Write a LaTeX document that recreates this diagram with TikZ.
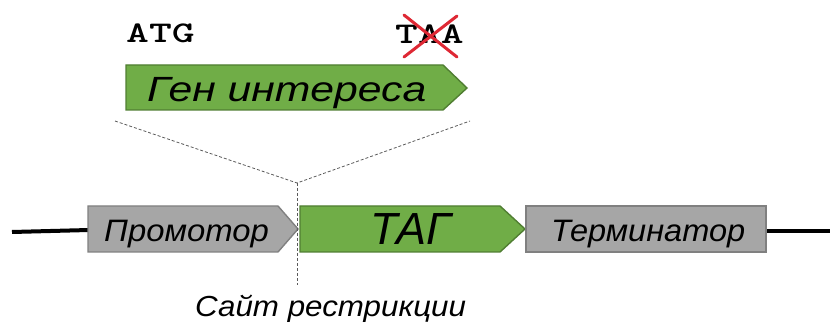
\documentclass[tikz,border=0pt]{standalone}
\usepackage{fontspec}
\setmainfont{Liberation Sans}
\tikzset{
  grayfill/.style={fill=boxgray, draw=boxedge, line width=1.4pt},
  greenfill/.style={fill=genegreen, draw=geneedge, line width=1.4pt},
  label/.style={inner sep=0pt, anchor=base west, font=\itshape},
  guide/.style={dashed, dash pattern=on 3pt off 2pt, draw=guidegray, line width=0.8pt},
  dnaline/.style={line width=4pt, black},
  codon/.style={inner sep=0pt, anchor=base west, font=\fontsize{30}{34}\selectfont\ttfamily\bfseries},
  cross/.style={draw=crossred, line width=3pt, line cap=round}
}
\definecolor{boxgray}{RGB}{166,166,166}
\definecolor{boxedge}{RGB}{128,128,128}
\definecolor{genegreen}{RGB}{112,173,71}
\definecolor{geneedge}{RGB}{80,126,50}
\definecolor{guidegray}{RGB}{90,90,90}
\definecolor{crossred}{RGB}{222,40,52}
\begin{document}
\begin{tikzpicture}[x=1pt,y=-1pt]
\useasboundingbox (0,0) rectangle (830,323);

% DNA backbone ends
\coordinate (l0) at (12,232);
\coordinate (l1) at (89,230);
\coordinate (r0) at (765,231);
\coordinate (r1) at (830,231);
\draw[dnaline] (l0) -- (l1);
\draw[dnaline] (r0) -- (r1);

% promoter
\draw[grayfill] (88,206) -- (278,206) -- (298,229) -- (278,252) -- (88,252) -- cycle;
\node[label, font=\itshape\fontsize{31}{36}\selectfont] (prom) at (104,242) {\scalebox{1.06}[1]{Промотор}};

% tag
\draw[greenfill] (300,206) -- (500,206) -- (525,229) -- (500,252) -- (300,252) -- cycle;
\node[label, font=\itshape\fontsize{45}{50}\selectfont] (tag) at (370,244) {ТАГ};

% terminator
\draw[grayfill] (526,206) rectangle (766,252);
\node[label, font=\itshape\fontsize{31}{36}\selectfont] (term) at (551,242) {\scalebox{1.05}[1]{Терминатор}};

% gene of interest
\draw[greenfill] (126,65) -- (443,65) -- (467,88) -- (443,110) -- (126,110) -- cycle;
\node[label, font=\itshape\fontsize{35}{42}\selectfont] (gene) at (147,102) {\scalebox{1.22}[1]{Ген интереса}};

% codons
\node[codon] (atg) at (126,43) {\scalebox{1.45}[1]{ATG}};
\node[codon] (taa) at (395,44) {\scalebox{1.45}[1]{TAA}};
\draw[cross] (404,15) -- (457,57);
\draw[cross] (457,16) -- (404,57);

% insertion guides
\coordinate (gl) at (115,121);
\coordinate (gr) at (470,121);
\coordinate (site) at (297,183);
\coordinate (sitebot) at (297,285);
\draw[guide] (gl) -- (site) -- (gr);
\draw[guide] (site) -- (sitebot);

\node[label, font=\itshape\fontsize{29}{34}\selectfont] (sitelabel) at (195,316) {\scalebox{1.08}[1]{Сайт рестрикции}};
\end{tikzpicture}
\end{document}
